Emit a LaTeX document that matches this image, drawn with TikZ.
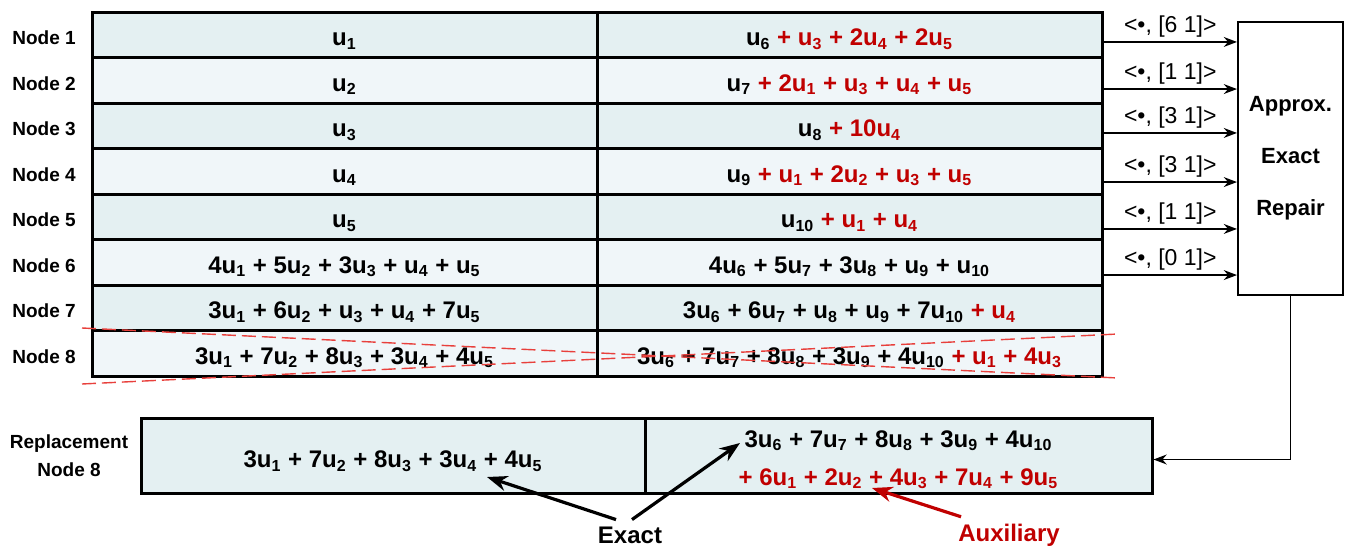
\documentclass[tikz,border=0pt]{standalone}
\usepackage{fontspec}
\setmainfont{Liberation Sans}
\usetikzlibrary{arrows.meta}

\definecolor{rowA}{HTML}{E4F0F2}
\definecolor{rowB}{HTML}{F0F6F9}
\definecolor{auxred}{HTML}{C00000}
\definecolor{crossred}{HTML}{E8403C}
\newcommand{\uu}[1]{u\textsubscript{#1}}
\newcommand{\ax}[1]{\textcolor{auxred}{#1}}

\begin{document}
\begin{tikzpicture}[x=0.5pt, y=-0.5pt, >=Stealth,
  cellbox/.style={draw, line width=1.5pt, fill=rowA, minimum width=252.5pt,
    minimum height=22.75pt, inner sep=0pt, font=\bfseries\fontsize{12}{19}\selectfont},
  cellA/.style={cellbox, text height=11pt, text depth=0pt},
  cellB/.style={cellA, fill=rowB},
  nlabel/.style={font=\bfseries\fontsize{9.5}{14}\selectfont},
  feed/.style={->, line width=0.8pt},
  vec/.style={above, inner sep=2pt, font=\fontsize{11.5}{14}\selectfont},
  pointer/.style={->, line width=1.6pt}]
  \useasboundingbox (0,0) rectangle (1345,546);
  % Storage rows
  \node[cellA] (l1) at (344.5,34.75) {\uu{1}};
  \node[cellA] (r1) at (849.5,34.75) {\uu{6} \ax{+ \uu{3} + 2\uu{4} + 2\uu{5}}};
  \node[cellB] (l2) at (344.5,80.25) {\uu{2}};
  \node[cellB] (r2) at (849.5,80.25) {\uu{7} \ax{+ 2\uu{1} + \uu{3} + \uu{4} + \uu{5}}};
  \node[cellA] (l3) at (344.5,125.75) {\uu{3}};
  \node[cellA] (r3) at (849.5,125.75) {\uu{8} \ax{+ 10\uu{4}}};
  \node[cellB] (l4) at (344.5,171.25) {\uu{4}};
  \node[cellB] (r4) at (849.5,171.25) {\uu{9} \ax{+ \uu{1} + 2\uu{2} + \uu{3} + \uu{5}}};
  \node[cellA] (l5) at (344.5,216.75) {\uu{5}};
  \node[cellA] (r5) at (849.5,216.75) {\uu{10} \ax{+ \uu{1} + \uu{4}}};
  \node[cellB] (l6) at (344.5,262.25) {4\uu{1} + 5\uu{2} + 3\uu{3} + \uu{4} + \uu{5}};
  \node[cellB] (r6) at (849.5,262.25) {4\uu{6} + 5\uu{7} + 3\uu{8} + \uu{9} + \uu{10}};
  \node[cellA] (l7) at (344.5,307.75) {3\uu{1} + 6\uu{2} + \uu{3} + \uu{4} + 7\uu{5}};
  \node[cellA] (r7) at (849.5,307.75) {3\uu{6} + 6\uu{7} + \uu{8} + \uu{9} + 7\uu{10} \ax{+ \uu{4}}};
  \node[cellB] (l8) at (344.5,353.25) {3\uu{1} + 7\uu{2} + 8\uu{3} + 3\uu{4} + 4\uu{5}};
  \node[cellB] (r8) at (849.5,353.25) {3\uu{6} + 7\uu{7} + 8\uu{8} + 3\uu{9} + 4\uu{10} \ax{+ \uu{1} + 4\uu{3}}};
  % Row names
  \node[nlabel] (n1) at (44,38) {Node 1};
  \node[nlabel] (n2) at (44,83.5) {Node 2};
  \node[nlabel] (n3) at (44,129) {Node 3};
  \node[nlabel] (n4) at (44,174.5) {Node 4};
  \node[nlabel] (n5) at (44,220) {Node 5};
  \node[nlabel] (n6) at (44,265.5) {Node 6};
  \node[nlabel] (n7) at (44,311) {Node 7};
  \node[nlabel] (n8) at (44,356.5) {Node 8};
  % Failed node crossed out
  \draw[crossred, line width=0.7pt, dash pattern=on 7pt off 3pt] (82,328) -- (1118,378);
  \draw[crossred, line width=0.7pt, dash pattern=on 7pt off 3pt] (82,384) -- (1118,334);
  % Repair block
  \node[draw, line width=1pt, fill=white, minimum width=52.5pt, minimum height=136.5pt,
    align=center, font=\bfseries\fontsize{11}{26}\selectfont] (repair) at (1290.5,158.5)
    {Approx.\\Exact\\Repair};
  \draw[feed] ([yshift=-3.6pt]r1.east) -- ([yshift=-3.6pt]r1.east -| repair.west) node[vec, midway] {<•, [6 1]>};
  \draw[feed] ([yshift=-4.4pt]r2.east) -- ([yshift=-4.4pt]r2.east -| repair.west) node[vec, midway] {<•, [1 1]>};
  \draw[feed] ([yshift=-3.6pt]r3.east) -- ([yshift=-3.6pt]r3.east -| repair.west) node[vec, midway] {<•, [3 1]>};
  \draw[feed] ([yshift=-5.4pt]r4.east) -- ([yshift=-5.4pt]r4.east -| repair.west) node[vec, midway] {<•, [3 1]>};
  \draw[feed] ([yshift=-6.1pt]r5.east) -- ([yshift=-6.1pt]r5.east -| repair.west) node[vec, midway] {<•, [1 1]>};
  \draw[feed] ([yshift=-6.4pt]r6.east) -- ([yshift=-6.4pt]r6.east -| repair.west) node[vec, midway] {<•, [0 1]>};
  % Replacement node
  \node[nlabel, align=center] (replab) at (69,456) {Replacement\\Node 8};
  \node[cellA, minimum width=252pt, minimum height=37.5pt, text height=12pt] (rep1) at (393,455.5)
    {3\uu{1} + 7\uu{2} + 8\uu{3} + 3\uu{4} + 4\uu{5}};
  \node[cellbox, minimum width=253.5pt, minimum height=37.5pt, align=center] (rep2) at (898.5,455.5)
    {\rule{0pt}{12.6pt}3\uu{6} + 7\uu{7} + 8\uu{8} + 3\uu{9} + 4\uu{10}\\
     \ax{+ 6\uu{1} + 2\uu{2} + 4\uu{3} + 7\uu{4} + 9\uu{5}}};
  \draw[feed] (repair.south) |- ([yshift=-2pt]rep2.east);
  % Exact / auxiliary parts
  \node[font=\bfseries\fontsize{12}{14}\selectfont] (exact) at (630,535) {Exact};
  \node[font=\bfseries\fontsize{12}{14}\selectfont, text=auxred] (auxil) at (1009,535) {Auxiliary};
  \coordinate (exL) at (487,477);
  \coordinate (exR) at (740,443);
  \coordinate (auxT) at (872,488);
  \draw[pointer] ([xshift=-7pt]exact.north) -- (exL);
  \draw[pointer] ([xshift=1pt]exact.north) -- (exR);
  \draw[pointer, auxred] ([xshift=-24pt]auxil.north) -- (auxT);
\end{tikzpicture}
\end{document}
